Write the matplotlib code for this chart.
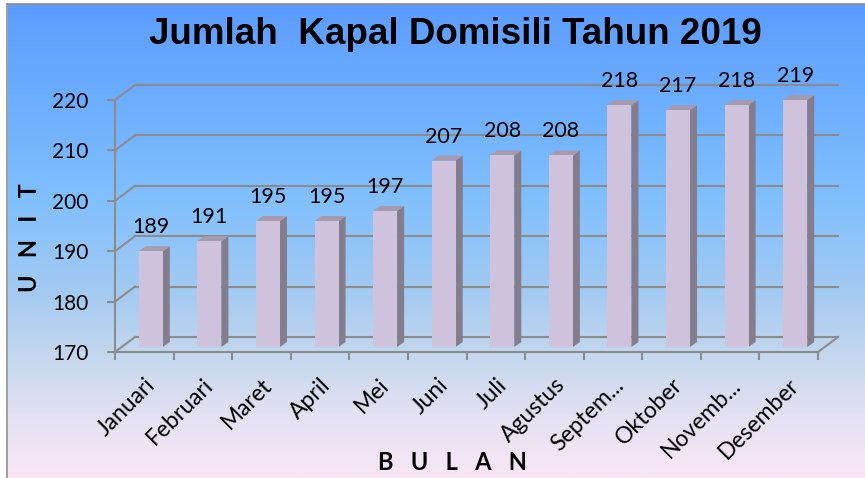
import numpy as np
import matplotlib
matplotlib.use("Agg")
import matplotlib.pyplot as plt
from matplotlib.patches import Polygon
from matplotlib.lines import Line2D
from matplotlib.colors import LinearSegmentedColormap

# data
bulan = ['Januari', 'Februari', 'Maret', 'April', 'Mei', 'Juni', 'Juli',
         'Agustus', 'Septem...', 'Oktober', 'Novemb...', 'Desember']
jumlah = [189, 191, 195, 195, 197, 207, 208, 208, 218, 217, 218, 219]
yticks = [170, 180, 190, 200, 210, 220]

W, H = 865, 478
fig = plt.figure(figsize=(W / 100, H / 100), dpi=100)

# background gradient
bg = fig.add_axes([8 / W, 0, (W - 8) / W, 474 / H])
grad = LinearSegmentedColormap.from_list('bg', [
    (0.0, '#5c9cff'), (0.2, '#6caeff'), (0.42, '#82c0fd'),
    (0.62, '#a6cbf1'), (0.75, '#c6d8ee'), (0.88, '#e6e2f3'), (1.0, '#f9e7f6')])
bg.imshow(np.linspace(0, 1, 256).reshape(-1, 1), aspect='auto', cmap=grad,
          extent=[0, 1, 0, 1])
bg.axis('off')
fig.add_artist(Line2D([7.5 / W, 7.5 / W], [0, 474.5 / H], color='#8c8c8c', lw=1.2))
fig.add_artist(Line2D([7.5 / W, 1], [474.5 / H, 474.5 / H], color='#8c8c8c', lw=1.2))

ax = fig.add_axes([115 / W, (H - 352) / H, 703 / W, 252 / H])
ax.set_facecolor('none')
ax.set_xlim(0, 12)
ax.set_ylim(170, 220)

grid_c = '#8c8c8c'
for s in ['top', 'right']:
    ax.spines[s].set_visible(False)
for s in ['left', 'bottom']:
    ax.spines[s].set_color(grid_c)
    ax.spines[s].set_linewidth(1.5)
    ax.spines[s].set_zorder(1)


def shift(x, y, dx, dy):
    p = ax.transData.transform((x, y))
    return ax.transData.inverted().transform((p[0] + dx, p[1] + dy))


# back wall gridlines and left wall diagonals
back = (20, 15)
for t in yticks:
    b0 = shift(0, t, *back)
    b1 = shift(12, t, *back)
    ax.plot([b0[0], b1[0]], [b0[1], b1[1]], color=grid_c, lw=1.5, clip_on=False, zorder=1)
    ax.plot([0, b0[0]], [t, b0[1]], color=grid_c, lw=1.5, clip_on=False, zorder=1)
r = shift(12, 170, *back)
ax.plot([12, r[0]], [170, r[1]], color=grid_c, lw=1.5, clip_on=False, zorder=1)

# 3d bars
bar_off = (6.5, 5)
depth = (7, 5)
bw = 0.41
front_c, side_c, top_c = '#cfc2dc', '#847d8d', '#a59aae'
for i, v in enumerate(jumlah):
    xc = i + 0.5
    x0, x1 = xc - bw / 2, xc + bw / 2
    fl = shift(x0, 170, *bar_off)
    fr = shift(x1, 170, *bar_off)
    tl = shift(x0, v, *bar_off)
    tr = shift(x1, v, *bar_off)
    dx, dy = bar_off[0] + depth[0], bar_off[1] + depth[1]
    br = shift(x1, 170, dx, dy)
    btr = shift(x1, v, dx, dy)
    btl = shift(x0, v, dx, dy)
    ax.add_patch(Polygon([fr, br, btr, tr], closed=True, fc=side_c, ec='none',
                         clip_on=False, zorder=3))
    ax.add_patch(Polygon([tl, tr, btr, btl], closed=True, fc=top_c, ec='none',
                         clip_on=False, zorder=3))
    ax.add_patch(Polygon([fl, fr, tr, tl], closed=True, fc=front_c, ec='none',
                         clip_on=False, zorder=4))
    lab = shift(xc, v, bar_off[0], bar_off[1] + 18)
    ax.text(lab[0], lab[1], str(v), ha='center', va='baseline', fontsize=15.5,
            family='Lato', color='black', clip_on=False, zorder=5)

# ticks
ax.set_yticks(yticks)
ax.set_yticklabels([str(t) for t in yticks], family='Lato', fontsize=15)
ax.tick_params(axis='y', length=6, width=1.5, color=grid_c, pad=13)
ax.set_xticks(np.arange(12) + 0.5)
ax.set_xticklabels(bulan, rotation=45, ha='right', va='top', rotation_mode='anchor',
                   family='Lato', fontsize=16.5)
ax.tick_params(axis='x', which='major', length=0, pad=16)
ax.set_xticks(np.arange(13), minor=True)
ax.tick_params(axis='x', which='minor', length=6, width=1.5, color=grid_c, direction='out')

fig.text(455 / W, 1 - 35 / H, 'Jumlah  Kapal Domisili Tahun 2019', ha='center', va='center',
         fontsize=26.5, fontweight='bold', family='Liberation Sans')
fig.text(30 / W, 1 - 238 / H, 'U   N   I   T', rotation=90, ha='center', va='center',
         fontsize=17, fontweight='bold', family='Lato')
fig.text(452 / W, 1 - 462 / H, 'B   U   L   A   N', ha='center', va='center',
         fontsize=17, fontweight='bold', family='Lato')

fig.savefig('out.png', dpi=100)
